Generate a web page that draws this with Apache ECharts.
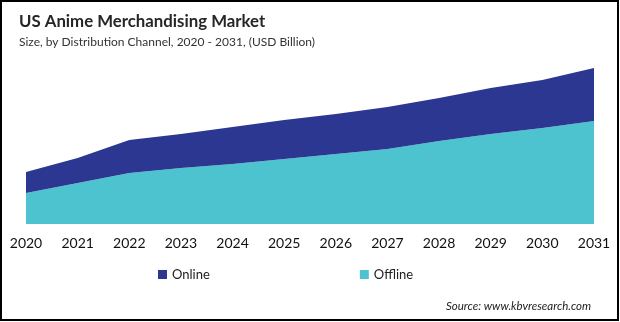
<!DOCTYPE html>
<html><head><meta charset="utf-8">
<script src="https://cdn.jsdelivr.net/npm/echarts@6/dist/echarts.min.js"></script>
<style>html,body{margin:0;padding:0;background:#fff}#c{width:620px;height:322px}</style>
</head><body><div id="c"></div>
<script>
const years = ['2020','2021','2022','2023','2024','2025','2026','2027','2028','2029','2030','2031'];
const offline = [0.31, 0.41, 0.51, 0.56, 0.60, 0.65, 0.70, 0.75, 0.83, 0.90, 0.96, 1.03];
const online  = [0.21, 0.25, 0.33, 0.34, 0.37, 0.39, 0.40, 0.42, 0.43, 0.46, 0.48, 0.53];
const FONT = 'Lato, "Open Sans", sans-serif';
const chart = echarts.init(document.getElementById('c'), null, {renderer:'canvas'});
chart.setOption({
  animation:false,
  title:[
    {text:'US Anime Merchandising Market', left:14, top:8, textStyle:{fontFamily:FONT, fontSize:16.8, fontWeight:'bold', color:'#262626'}},
    {text:'Size, by Distribution Channel, 2020 - 2031, (USD Billion)', left:14, top:31, textStyle:{fontFamily:FONT, fontSize:12, fontWeight:'normal', color:'#333'}},
    {text:'Source: www.kbvresearch.com', left:441, top:295, textStyle:{fontFamily:FONT, fontSize:11.5, fontStyle:'italic', fontWeight:'normal', color:'#222'}}
  ],
  legend:{
    data:['Online','Offline'], top:263, left:153, itemGap:150, itemWidth:9, itemHeight:9,
    icon:'rect', textStyle:{fontFamily:FONT, fontSize:13, color:'#222'}
  },
  grid:{left:26, right:26, top:24, bottom:98},
  xAxis:{type:'category', data:years, boundaryGap:false,
    axisLine:{show:false}, axisTick:{show:false},
    axisLabel:{fontFamily:FONT, fontSize:14, color:'#111', margin:12, interval:0}},
  yAxis:{type:'value', min:0, max:2, show:false, splitLine:{show:false}},
  series:[
    {name:'Offline', type:'line', stack:'t', data:offline, symbol:'none', smooth:false,
      lineStyle:{width:0}, areaStyle:{color:'#4cc3ce', opacity:1}, itemStyle:{color:'#4cc3ce'}},
    {name:'Online', type:'line', stack:'t', data:online, symbol:'none', smooth:false,
      lineStyle:{width:0}, areaStyle:{color:'#2b3790', opacity:1}, itemStyle:{color:'#2b3790'}}
  ],
  graphic:[{type:'rect', shape:{x:1, y:1, width:617, height:319}, style:{fill:'none', stroke:'#000', lineWidth:2}, silent:true}]
});
</script></body></html>
